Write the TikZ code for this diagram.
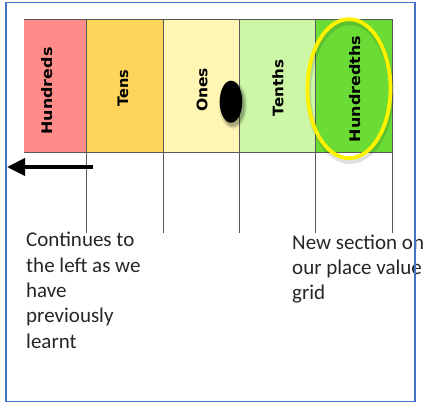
\documentclass[tikz,border=0pt]{standalone}
\usepackage{fontspec}
\setmainfont{Carlito}
\newfontfamily\colfont{DejaVu Sans}
\usetikzlibrary{arrows.meta}
\definecolor{frameblue}{HTML}{4472C4}
\definecolor{gridgray}{HTML}{595959}
\definecolor{cHund}{HTML}{FF8C88}
\definecolor{cTens}{HTML}{FFD45A}
\definecolor{cOnes}{HTML}{FFF6B3}
\definecolor{cTenths}{HTML}{CDF7A6}
\definecolor{cHth}{HTML}{6BDB35}
\definecolor{hlyellow}{HTML}{FFF200}
\begin{document}
\begin{tikzpicture}[x=1pt,y=-1pt,
  collabel/.style={rotate=90,font=\colfont\bfseries\fontsize{14.5}{16}\selectfont,inner sep=0pt},
  tick/.style={draw=gridgray,line width=0.8pt},
  note/.style={align=left,anchor=base west,inner sep=0pt,font=\fontsize{21}{25.4}\selectfont,text=black!85}]
\useasboundingbox (0,0) rectangle (424,404);
% columns
\fill[cHund] (24,19.5) rectangle (86,152.7);
\fill[cTens] (86,19.5) rectangle (163,152.7);
\fill[cOnes] (163,19.5) rectangle (239,152.7);
\fill[cTenths] (239,19.5) rectangle (315,152.7);
\fill[cHth] (315,19.5) rectangle (392,152.7);
\draw[tick] (24,19.5) -- (392,19.5);
\draw[tick] (24,152.7) -- (392,152.7);
\foreach \x in {86,163,239,315,392} {\draw[tick] (\x,19.5) -- (\x,232.7);}
% labels
\node[collabel] (hund) at (47.5,91) {\scalebox{1.1}[1]{Hundreds}};
\node[collabel] (tens) at (123,88) {Tens};
\node[collabel] (ones) at (202,90) {\scalebox{1.07}[1]{Ones}};
\node[collabel] (tenths) at (278,88) {\scalebox{1.04}[1]{Tenths}};
\node[collabel] (hth) at (355.5,89) {\scalebox{1.1}[1]{Hundredths}};
% decimal point with soft shadow
\foreach \r/\o in {4/0.06,3/0.08,2/0.1,1/0.12} {
  \fill[black,opacity=\o] (233,105) ellipse [x radius=10.5+\r, y radius=20+\r];}
\fill[black] (231,101.7) ellipse [x radius=11.3, y radius=21];
% highlight ellipse with faint shadow ring
\draw[black,opacity=0.12,line width=5pt] (350,92) ellipse [x radius=41.5, y radius=69.5];
\draw[hlyellow,line width=3.8pt] (349,88.7) ellipse [x radius=41.5, y radius=69.5];
% arrow
\coordinate (arrS) at (93,167);
\coordinate (arrE) at (7,167);
\draw[line width=4pt,-{Triangle[length=18pt,width=17pt]}] (arrS) -- (arrE);
% notes
\node[note] (left) at (26,348.3) {Continues to\\the left as we\\have\\previously\\learnt};
\node[note] (right) at (292,300) {New section on\\our place value\\grid};
% frame
\draw[frameblue,line width=1.5pt] (6,2.5) rectangle (415,401.5);
\end{tikzpicture}
\end{document}
